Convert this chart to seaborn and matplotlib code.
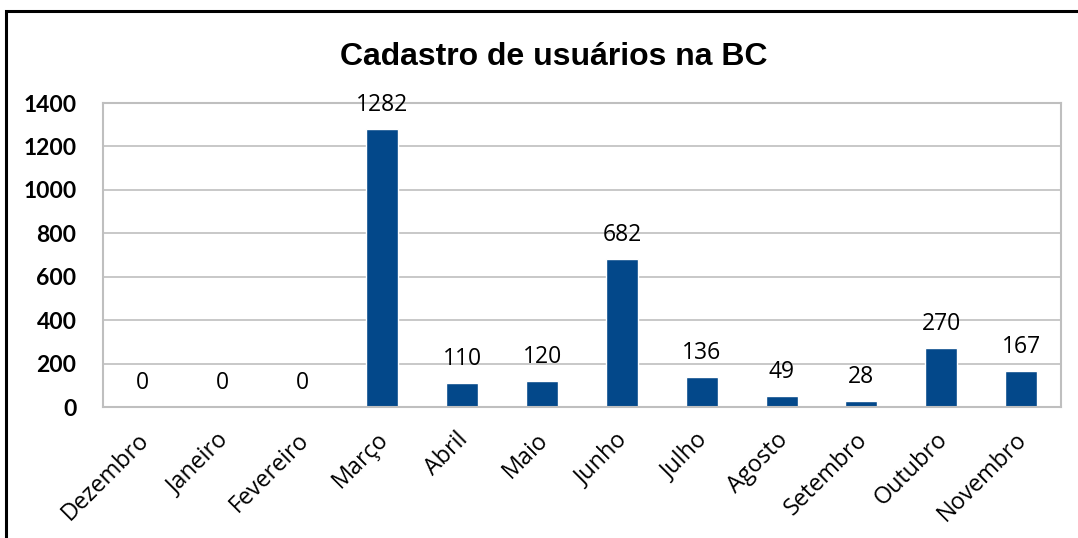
import matplotlib
matplotlib.use("Agg")
import matplotlib.pyplot as plt
import seaborn as sns
import pandas as pd
from matplotlib.patches import Rectangle
from matplotlib.transforms import ScaledTranslation

months = ["Dezembro", "Janeiro", "Fevereiro", "Março", "Abril", "Maio",
          "Junho", "Julho", "Agosto", "Setembro", "Outubro", "Novembro"]
values = [0, 0, 0, 1282, 110, 120, 682, 136, 49, 28, 270, 167]
yticks = [0, 200, 400, 600, 800, 1000, 1200, 1400]
title = "Cadastro de usuários na BC"

sns.set_theme(style="white")
plt.rcParams['font.family'] = ['Open Sans', 'DejaVu Sans']
plt.rcParams['text.color'] = 'black'
plt.rcParams['xtick.color'] = 'black'
plt.rcParams['ytick.color'] = 'black'

df = pd.DataFrame({"mes": months, "valor": values})

fig = plt.figure(figsize=(10.78, 5.38), dpi=100)
ax = fig.add_axes([103/1078, 1 - 407/538, (1061-103)/1078, (407-103)/538])

sns.barplot(data=df, x="mes", y="valor", color="#03488A", width=0.4,
            saturation=1, ax=ax, order=months)

ax.set_ylim(0, 1400)
ax.set_xlim(-0.5, len(months) - 0.5)
ax.set_yticks(yticks)
ax.set_yticklabels([str(t) for t in yticks], fontsize=16.5, fontweight='bold',
                   family=['Lato', 'DejaVu Sans'])
ax.yaxis.grid(True, color="#BFBFBF", linewidth=1.2)
ax.set_axisbelow(True)
ax.set_xlabel("")
ax.set_ylabel("")
ax.tick_params(axis='y', length=0, pad=19)
ax.tick_params(axis='x', length=0, pad=15)
ax.set_xticks(range(len(months)))
ax.set_xticklabels(months, rotation=45, ha='right', rotation_mode='anchor',
                   fontsize=16.8)
shift = ScaledTranslation(-6/100, 0, fig.dpi_scale_trans)
for lab in ax.get_xticklabels():
    lab.set_transform(lab.get_transform() + shift)
for s in ax.spines.values():
    s.set_color("#BFBFBF")
    s.set_linewidth(1.5)
    s.set_visible(True)

for i, v in enumerate(values):
    ax.annotate(str(v), xy=(i, v), xytext=(0, 13), textcoords='offset points',
                ha='center', va='baseline', fontsize=16.5)

fig.text(554/1078, 1 - 57/538, title, ha='center', va='center',
         fontsize=23, fontweight='bold', family=['Liberation Sans', 'DejaVu Sans'])

fig.patches.append(Rectangle((6/1078, -0.1), 1.2, 1 - 11/538 + 0.1,
                             transform=fig.transFigure, fill=False,
                             edgecolor='black', linewidth=2.2, figure=fig))

fig.savefig("out.png", dpi=100)
